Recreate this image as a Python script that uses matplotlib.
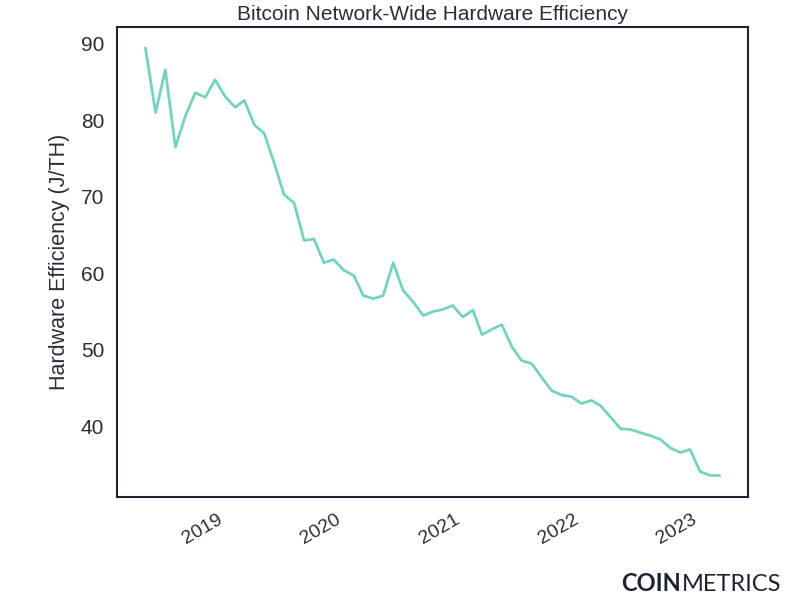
import matplotlib
matplotlib.use('Agg')
import matplotlib.pyplot as plt
import matplotlib.dates as mdates
import pandas as pd

# Monthly network-wide hardware efficiency (J/TH), May 2018 - Mar 2023
start_month = '2018-05-01'
efficiency = [
    89.4, 81.0, 86.6, 76.5, 80.6, 83.6, 83.0, 85.3, 83.1, 81.7,
    82.6, 79.4, 78.3, 74.4, 70.3, 69.2, 64.3, 64.5, 61.4, 61.8,
    60.4, 59.7, 57.1, 56.7, 57.1, 61.4, 57.8, 56.3, 54.5, 55.0,
    55.3, 55.8, 54.3, 55.2, 52.0, 52.7, 53.3, 50.4, 48.6, 48.2,
    46.4, 44.7, 44.1, 43.9, 43.0, 43.4, 42.7, 41.2, 39.7, 39.6,
    39.2, 38.8, 38.3, 37.2, 36.6, 37.0, 34.1, 33.6, 33.6,
]
dates = pd.date_range(start_month, periods=len(efficiency), freq='MS')

text_color = '#2b2d38'
spine_color = '#1e2233'
line_color = '#74d3bf'

plt.rcParams['font.family'] = ['Liberation Sans', 'DejaVu Sans']

fig = plt.figure(figsize=(8, 6), dpi=100)
ax = fig.add_axes([0.146, 0.172, 0.789, 0.783])
ax.plot(dates, efficiency, color=line_color, linewidth=2)

ax.set_title('Bitcoin Network-Wide Hardware Efficiency', fontsize=15, color=text_color, pad=5)
ax.set_ylabel('Hardware Efficiency (J/TH)', fontsize=15.5, color=text_color, labelpad=8)

ax.xaxis.set_major_locator(mdates.YearLocator())
ax.xaxis.set_major_formatter(mdates.DateFormatter('%Y'))
for lbl in ax.get_xticklabels():
    lbl.set_rotation(30)
    lbl.set_ha('right')
ax.tick_params(axis='both', length=0, labelcolor=text_color)
ax.tick_params(axis='x', pad=10, labelsize=14)
ax.tick_params(axis='y', pad=9, labelsize=15)
ax.set_yticks([40, 50, 60, 70, 80, 90])

for sp in ax.spines.values():
    sp.set_color(spine_color)
    sp.set_linewidth(1.5)

# Coin Metrics wordmark
fig.text(0.777, 0.008, 'COIN', fontsize=17, fontweight='bold', color=spine_color,
         ha='left', va='bottom', family=['Lato', 'DejaVu Sans'])
fig.text(0.852, 0.008, 'METRICS', fontsize=17, fontweight='normal', color=spine_color,
         ha='left', va='bottom', family=['Lato', 'DejaVu Sans'])

fig.savefig('out.png', dpi=100)
